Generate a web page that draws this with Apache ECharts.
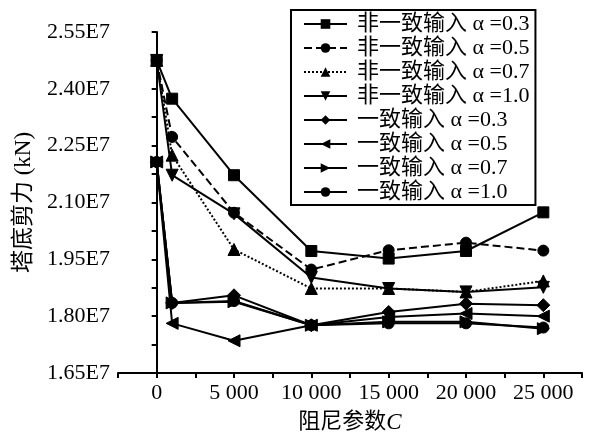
<!DOCTYPE html>
<html><head><meta charset="utf-8">
<script src="https://cdn.jsdelivr.net/npm/echarts@6/dist/echarts.min.js"></script>
<style>html,body{margin:0;padding:0;background:#fff}#c{width:589px;height:433px}</style>
</head><body><div id="c"></div>
<script>
const xValues = [0, 1000, 5000, 10000, 15000, 20000, 25000];
const seriesNames = ['非一致输入 α =0.3','非一致输入 α =0.5','非一致输入 α =0.7','非一致输入 α =1.0',
  '一致输入 α =0.3','一致输入 α =0.5','一致输入 α =0.7','一致输入 α =1.0'];
// values in units of 1E7 kN
const nonUni03 = [2.475, 2.374, 2.172, 1.972, 1.952, 1.972, 2.074];
const nonUni05 = [2.475, 2.273, 2.073, 1.923, 1.974, 1.994, 1.973];
const nonUni07 = [2.475, 2.225, 1.976, 1.873, 1.873, 1.864, 1.893];
const nonUni10 = [2.475, 2.172, 2.070, 1.902, 1.873, 1.864, 1.876];
const uni03 = [2.207, 1.835, 1.855, 1.776, 1.811, 1.833, 1.829];
const uni05 = [2.207, 1.781, 1.735, 1.776, 1.798, 1.807, 1.800];
const uni07 = [2.207, 1.835, 1.838, 1.776, 1.785, 1.785, 1.767];
const uni10 = [2.207, 1.835, 1.840, 1.776, 1.781, 1.781, 1.770];

const allData = [nonUni03, nonUni05, nonUni07, nonUni10, uni03, uni05, uni07, uni10];
const symbols = ['rect','circle','triangle','triangle','diamond','triangle','triangle','circle'];
const rotations = [0,0,0,180,0,90,-90,0];
const lineTypes = ['solid','dashed','dotted','solid','solid','solid','solid','solid'];
const sizes = [11,11,12,12,13,12,12,11];

const serif = '"Liberation Serif","DejaVu Serif","Noto Sans CJK SC",serif';
const chart = echarts.init(document.getElementById('c'));
chart.setOption({
  animation: false,
  backgroundColor: '#fff',
  grid: {left: 118, right: 7, top: 32, bottom: 60, containLabel: false, outerBoundsMode: 'none'},
  legend: {
    orient: 'vertical', left: 291, top: 10,
    borderColor: '#000', borderWidth: 2,
    padding: [3, 6, 2, 12],
    itemWidth: 43, itemHeight: 12, itemGap: 2,
    textStyle: {fontFamily: serif, fontSize: 22, color: '#000', lineHeight: 22, padding: [0, 0, 0, 5]},
    data: seriesNames
  },
  xAxis: {
    type: 'value', min: -2500, max: 27500, interval: 2500,
    axisLine: {lineStyle: {color: '#000', width: 2}},
    axisTick: {lineStyle: {color: '#000', width: 2}, length: 5},
    splitLine: {show: false},
    axisLabel: {
      color: '#000', fontFamily: serif, fontSize: 22, margin: 9,
      formatter: v => (v >= 0 && v % 5000 === 0) ? (v === 0 ? '0' : String(v / 1000) + ' 000') : ''
    },
    name: '阻尼参数{i|C}', nameLocation: 'middle', nameGap: 38,
    nameTextStyle: {color: '#000', fontFamily: serif, fontSize: 22,
      rich: {i: {fontStyle: 'italic', fontFamily: serif, fontSize: 23, color: '#000'}}}
  },
  yAxis: {
    type: 'value', min: 1.65, max: 2.55, interval: 0.075,
    axisLine: {show: true, lineStyle: {color: '#000', width: 2}},
    axisTick: {show: true, lineStyle: {color: '#000', width: 2}, length: 5},
    splitLine: {show: false},
    axisLabel: {
      color: '#000', fontFamily: serif, fontSize: 22, margin: 8,
      formatter: v => {
        const k = Math.round((v - 1.65) / 0.075);
        return k % 2 === 0 ? (1.65 + k * 0.075).toFixed(2) + 'E7' : '';
      }
    },
    name: '塔底剪力 (kN)', nameLocation: 'middle', nameGap: 83, nameRotate: 90,
    nameTextStyle: {color: '#000', fontFamily: serif, fontSize: 23}
  },
  series: allData.map((d, i) => ({
    name: seriesNames[i], type: 'line',
    data: d.map((v, j) => [xValues[j], v]),
    symbol: symbols[i], symbolSize: sizes[i], symbolRotate: rotations[i],
    showAllSymbol: true,
    lineStyle: {color: '#000', width: 2, type: lineTypes[i]},
    itemStyle: {color: '#000', borderColor: '#000'},
    z: 10 - i
  }))
});
</script></body></html>
